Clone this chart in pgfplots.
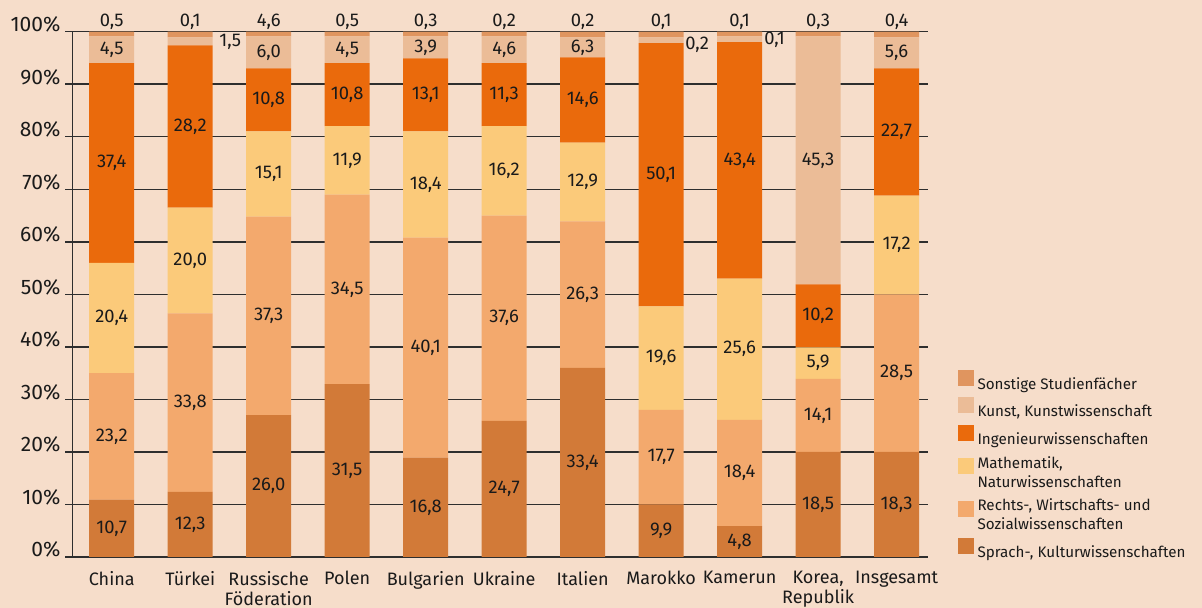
\documentclass[border=0pt]{standalone}
\usepackage{pgfplots}
\pgfplotsset{compat=1.18}
\usepackage{pgfplotstable}
\usepackage{fontspec}
\setmainfont{Fira Sans}

\definecolor{bgc}{HTML}{F6DDCA}
\definecolor{cSon}{HTML}{E0955F}
\definecolor{cKun}{HTML}{EBBC97}
\definecolor{cIng}{HTML}{EA6A0C}
\definecolor{cMat}{HTML}{FBCA7A}
\definecolor{cRec}{HTML}{F3A96D}
\definecolor{cSpr}{HTML}{D27A38}
\definecolor{txt}{HTML}{1A1A1A}
\definecolor{gridc}{HTML}{2E2E2E}

% h = drawn segment height (%), lab = printed value, dx/dy = label offset (pt)
\pgfplotstableread{
x h lab dx dy
0 10.9 10,7 0 0
1 12.4 12,3 0 0
2 27.0 26,0 0 0
3 32.9 31,5 0 0
4 18.9 16,8 0 0
5 25.9 24,7 0 0
6 36.0 33,4 0 0
7 10.0 9,9 0 0
8 5.9 4,8 0 0
9 20.0 18,5 0 0
10 20.0 18,3 0 0
}\spr
\pgfplotstableread{
x h lab dx dy
0 24.1 23,2 0 0
1 34.0 33,8 0 0
2 37.8 37,3 0 0
3 36.1 34,5 0 0
4 41.9 40,1 0 0
5 39.1 37,6 0 0
6 27.9 26,3 0 0
7 18.0 17,7 0 0
8 20.2 18,4 0 0
9 13.9 14,1 0 0
10 30.0 28,5 0 0
}\rec
\pgfplotstableread{
x h lab dx dy
0 21.0 20,4 0 0
1 20.1 20,0 0 0
2 16.2 15,1 0 0
3 13.0 11,9 0 0
4 20.2 18,4 0 0
5 17.0 16,2 0 0
6 15.0 12,9 0 0
7 19.7 19,6 0 0
8 26.9 25,6 0 0
9 6.0 5,9 0 0
10 18.8 17,2 0 0
}\mat
\pgfplotstableread{
x h lab dx dy
0 38.0 37,4 0 0
1 30.9 28,2 0 0
2 12.0 10,8 0 0
3 12.0 10,8 0 0
4 13.9 13,1 0 0
5 12.0 11,3 0 0
6 16.2 14,6 0 0
7 50.1 50,1 0 0
8 45.0 43,4 0 0
9 12.0 10,2 0 0
10 24.2 22,7 0 0
}\ing
\pgfplotstableread{
x h lab dx dy
0 5.1 4,5 0 0
1 1.5 1,5 20 0
2 6.1 6,0 0 0
3 5.1 4,5 0 0
4 4.2 3,9 0 0
5 5.1 4,6 0 0
6 3.8 6,3 0 0
7 1.1 0,2 18 -2
8 1.1 0,1 17.5 0
9 47.2 45,3 0 0
10 5.9 5,6 0 0
}\kun
\pgfplotstableread{
x h lab
0 0.9 0,5
1 1.1 0,1
2 0.9 4,6
3 0.9 0,5
4 0.9 0,3
5 0.9 0,2
6 1.1 0,2
7 1.1 0,1
8 0.9 0,1
9 0.9 0,3
10 1.1 0,4
}\son

\pgfplotsset{
  seg/.style={
    fill=#1, draw=none,
    nodes near coords,
    point meta=explicit symbolic,
    visualization depends on={\thisrow{dx} \as \lbdx},
    visualization depends on={\thisrow{dy} \as \lbdy},
    every node near coord/.append style={anchor=center,
      xshift={\lbdx*1pt}, yshift={\lbdy*1pt}},
  },
}

\begin{document}
\begin{tikzpicture}
\fill[bgc] (-36.25pt,-25.5pt) rectangle (564.75pt,278.5pt);
\begin{axis}[
  at={(0pt,0pt)}, anchor=south west,
  scale only axis, width=427.75pt, height=262.65pt,
  ybar stacked, bar width=22.5pt,
  xmin=-0.5, xmax=10.4, ymin=0, ymax=100,
  axis x line*=bottom, axis y line*=left,
  axis line style={gridc, line width=0.75pt},
  tick align=outside,
  ytick={0,10,...,100},
  yticklabel={\pgfmathprintnumber{\tick}\%},
  /pgf/number format/assume math mode=true,
  yticklabel style={font=\fontsize{10.5}{12}\selectfont, text=txt, anchor=base east, xshift=1pt},
  ytick style={gridc, line width=0.75pt},
  major tick length=3.5pt,
  ymajorgrids,
  major grid style={gridc, line width=0.75pt},
  xtick={0,...,10},
  xticklabels={China, Türkei, {Russische\\Föderation}, Polen, Bulgarien, Ukraine, Italien, Marokko, Kamerun, {Korea,\\Republik}, Insgesamt},
  xticklabel style={font=\fontsize{9}{10}\selectfont, text=txt, align=center},
  xtick style={draw=none},
  minor xtick={-0.5,0.5,...,9.5},
  minor tick length=3.75pt,
  minor x tick style={gridc, line width=0.75pt},
  every node near coord/.append style={font=\fontsize{9.2}{10}\selectfont, text=txt},
  legend style={at={(1.034,0.357)}, anchor=north west, draw=none, fill=none,
    inner sep=0pt, row sep=0.5pt, font=\fontsize{7.6}{9.5}\selectfont, text=txt,
    cells={align=left}},
  legend cell align=left,
  reverse legend,
  legend image code/.code={\fill[#1] (0pt,-0.5pt) rectangle (8pt,7.5pt);},
]
\addplot[seg=cSpr] table[x=x, y=h, meta=lab] {\spr};
\addlegendentry{Sprach-, Kulturwissenschaften}
\addplot[seg=cRec] table[x=x, y=h, meta=lab] {\rec};
\addlegendentry{Rechts-, Wirtschafts- und\\Sozialwissenschaften}
\addplot[seg=cMat] table[x=x, y=h, meta=lab] {\mat};
\addlegendentry{Mathematik,\\Naturwissenschaften}
\addplot[seg=cIng] table[x=x, y=h, meta=lab] {\ing};
\addlegendentry{Ingenieurwissenschaften}
\addplot[seg=cKun] table[x=x, y=h, meta=lab] {\kun};
\addlegendentry{Kunst, Kunstwissenschaft}
\addplot[fill=cSon, draw=none, nodes near coords, point meta=explicit symbolic,
  every node near coord/.append style={anchor=base, yshift=3.85pt}]
  table[x=x, y=h, meta=lab] {\son};
\addlegendentry{Sonstige Studienfächer}
\end{axis}
\pgfresetboundingbox
\path (-36.25pt,-25.5pt) rectangle (564.75pt,278.5pt);
\end{tikzpicture}
\end{document}
